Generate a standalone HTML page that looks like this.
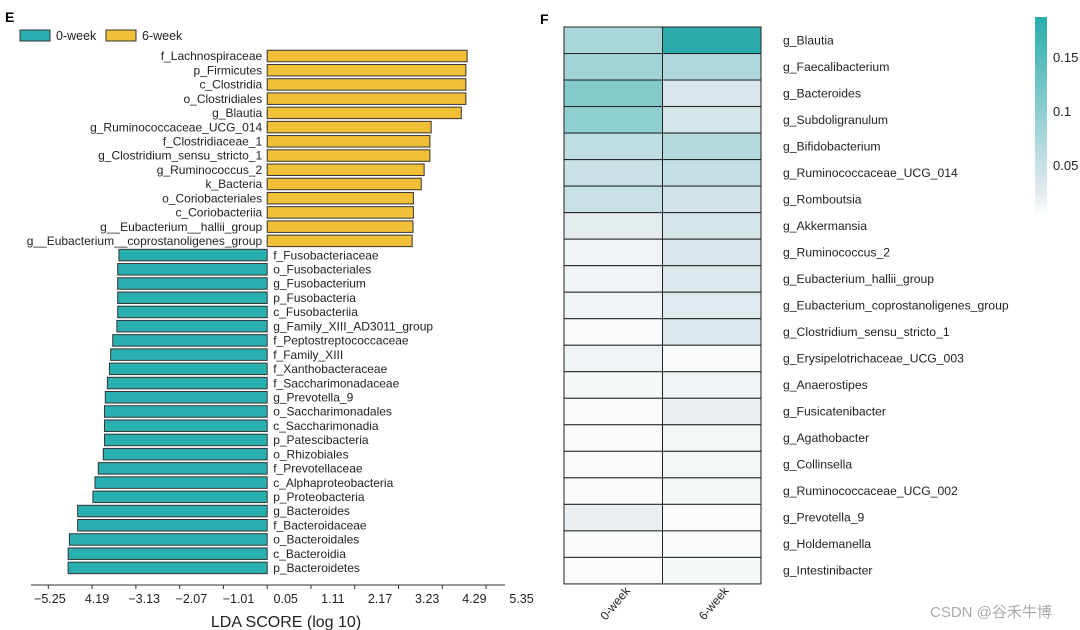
<!DOCTYPE html>
<html><head><meta charset="utf-8"><style>
body{margin:0;background:#fff;}
svg{display:block;font-family:"Liberation Sans","DejaVu Sans",sans-serif;}
</style></head><body>
<svg id="c" width="1080" height="630" viewBox="0 0 1080 630">
<text x="5" y="22" font-size="14" font-weight="bold">E</text>
<text x="540" y="24" font-size="14" font-weight="bold">F</text>
<g>
<rect x="20" y="30" width="30" height="11" fill="#2aafb0" stroke="#333"/>
<text x="56" y="40" font-size="12.5" fill="#222">0-week</text>
<rect x="106" y="30" width="30" height="11" fill="#f2c037" stroke="#333"/>
<text x="142" y="40" font-size="12.5" fill="#222">6-week</text>
</g>
<g id="lda"></g>
<g id="heat"></g>
<text x="930" y="617" font-size="15" fill="#aaa" font-family="'Liberation Sans','Noto Sans CJK SC',sans-serif">CSDN @谷禾牛博</text>
</svg>
<script>
const ldaLabels=["f_Lachnospiraceae","p_Firmicutes","c_Clostridia","o_Clostridiales","g_Blautia","g_Ruminococcaceae_UCG_014","f_Clostridiaceae_1","g_Clostridium_sensu_stricto_1","g_Ruminococcus_2","k_Bacteria","o_Coriobacteriales","c_Coriobacteriia","g__Eubacterium__hallii_group","g__Eubacterium__coprostanoligenes_group","f_Fusobacteriaceae","o_Fusobacteriales","g_Fusobacterium","p_Fusobacteria","c_Fusobacteriia","g_Family_XIII_AD3011_group","f_Peptostreptococcaceae","f_Family_XIII","f_Xanthobacteraceae","f_Saccharimonadaceae","g_Prevotella_9","o_Saccharimonadales","c_Saccharimonadia","p_Patescibacteria","o_Rhizobiales","f_Prevotellaceae","c_Alphaproteobacteria","p_Proteobacteria","g_Bacteroides","f_Bacteroidaceae","o_Bacteroidales","c_Bacteroidia","p_Bacteroidetes"];
const ldaValues=[4.84,4.81,4.81,4.81,4.70,3.97,3.94,3.94,3.80,3.73,3.54,3.54,3.53,3.51,-3.59,-3.62,-3.62,-3.62,-3.62,-3.64,-3.74,-3.79,-3.82,-3.87,-3.92,-3.94,-3.94,-3.94,-3.97,-4.09,-4.17,-4.22,-4.59,-4.59,-4.79,-4.82,-4.82];
const tickVals=[-5.3,-4.24,-3.18,-2.12,-1.06,0,1.06,2.12,3.18,4.24,5.3];
const tickLabels=["\u22125.25","4.19","\u22123.13","\u22122.07","\u22121.01","0.05","1.11","2.17","3.23","4.29","5.35"];
const heatRows=["g_Blautia","g_Faecalibacterium","g_Bacteroides","g_Subdoligranulum","g_Bifidobacterium","g_Ruminococcaceae_UCG_014","g_Romboutsia","g_Akkermansia","g_Ruminococcus_2","g_Eubacterium_hallii_group","g_Eubacterium_coprostanoligenes_group","g_Clostridium_sensu_stricto_1","g_Erysipelotrichaceae_UCG_003","g_Anaerostipes","g_Fusicatenibacter","g_Agathobacter","g_Collinsella","g_Ruminococcaceae_UCG_002","g_Prevotella_9","g_Holdemanella","g_Intestinibacter"];
const heatCols=["0-week","6-week"];
const week0=[0.09,0.095,0.12,0.11,0.07,0.06,0.06,0.025,0.015,0.015,0.015,0.005,0.015,0.008,0.005,0.005,0.005,0.005,0.02,0.005,0.004];
const week6=[0.187,0.085,0.04,0.045,0.08,0.065,0.05,0.045,0.04,0.035,0.03,0.035,0.005,0.015,0.018,0.01,0.01,0.01,0.004,0.005,0.008];
const cbTicks=[0.15,0.1,0.05];
const NS="http://www.w3.org/2000/svg";
function mk(p,t,a){const e=document.createElementNS(NS,t);for(const k in a)e.setAttribute(k,a[k]);p.appendChild(e);return e;}
// LDA chart
const g=document.getElementById('lda');
const x0=267.2,ppu=41.3,xs=v=>x0+v*ppu;
const lxs=v=>285.7+v*44.5; // label positions (labels are spread wider than ticks in the source)
const y0=56,step=14.22,bh=11.5,ys=i=>y0+i*step;
ldaLabels.forEach((lab,i)=>{
 const v=ldaValues[i],y=ys(i);
 const r=mk(g,'rect',{x:Math.min(xs(0),xs(v)),y:y-bh/2,width:Math.abs(xs(v)-xs(0)),height:bh,fill:v>0?'#f2c037':'#2aafb0',stroke:'#333','stroke-width':1});
 
 
 const t=mk(g,'text',{x:v>0?xs(0)-5:xs(0)+6,y:y+4.2,'font-size':12,fill:'#222','text-anchor':v>0?'end':'start'});
 t.textContent=lab;
 
 
});
const ax=mk(g,'line',{x1:31,x2:505,y1:585,y2:585,stroke:'#333','stroke-width':1});


tickVals.forEach((tv,i)=>{
 const tk=mk(g,'line',{x1:xs(tv),x2:xs(tv),y1:585,y2:589,stroke:'#333'});
 
 
 const tl=mk(g,'text',{x:lxs(tv),y:603,'font-size':12.5,fill:'#222','text-anchor':'middle'});
 tl.textContent=tickLabels[i];
 
 
});
const xt=mk(g,'text',{x:286,y:627,'font-size':16,fill:'#222','text-anchor':'middle'});
xt.textContent='LDA SCORE (log 10)';


// heatmap
const h=document.getElementById('heat');
const vmin=0.004,vmax=0.187;
function lerp(a,b,t){return a.map((x,i)=>Math.round(x+(b[i]-x)*t));}
function color(v){let t=Math.max(0,Math.min(1,(v-vmin)/(vmax-vmin)));
 const c0=[250,252,252],c1=[226,234,238],c2=[42,172,173];
 if(t<0.12)return 'rgb('+lerp(c0,c1,t/0.12).join(',')+')';
 const u=(t-0.12)/0.88;const c=lerp(c1,c2,Math.pow(u,1.25));return 'rgb('+c.join(',')+')';}
const hx=564,cw=98.5,hy=27,rh=26.52;
heatRows.forEach((lab,i)=>{
 [week0[i],week6[i]].forEach((v,j)=>{
  const r=mk(h,'rect',{x:hx+j*cw,y:hy+i*rh,width:cw,height:rh,fill:color(v),stroke:'#222','stroke-width':1});
  
  
 });
 const t=mk(h,'text',{x:783,y:hy+i*rh+rh/2+4,'font-size':12.2,fill:'#222'});
 t.textContent=lab;
 
 
});
heatCols.forEach((c,j)=>{
 const cx=hx+j*cw+cw/2+5,cy=606;
 const t=mk(h,'text',{x:cx,y:cy,'font-size':12,fill:'#222','text-anchor':'middle',transform:'rotate(-50 '+cx+' '+cy+')'});
 t.textContent=c;
 
 
});
// colorbar
const defs=mk(h,'defs',{});
const lg=mk(defs,'linearGradient',{id:'cb',x1:0,y1:1,x2:0,y2:0});
[0,0.12,1].forEach((o,k)=>{mk(lg,'stop',{offset:o,'stop-color':['#fcfefe','#e2eaee','#2aacad'][k]});});
const cbTop=17,cbBot=215,cby=v=>cbBot-(v-vmin)/(vmax-vmin)*(cbBot-cbTop);
const cb=mk(h,'rect',{x:1035,y:cbTop,width:12,height:cbBot-cbTop,fill:'url(#cb)'});


cbTicks.forEach(v=>{
 const t=mk(h,'text',{x:1053,y:cby(v)+5,'font-size':13,fill:'#222'});
 t.textContent=String(v);
 
 
});
</script>
</body></html>
